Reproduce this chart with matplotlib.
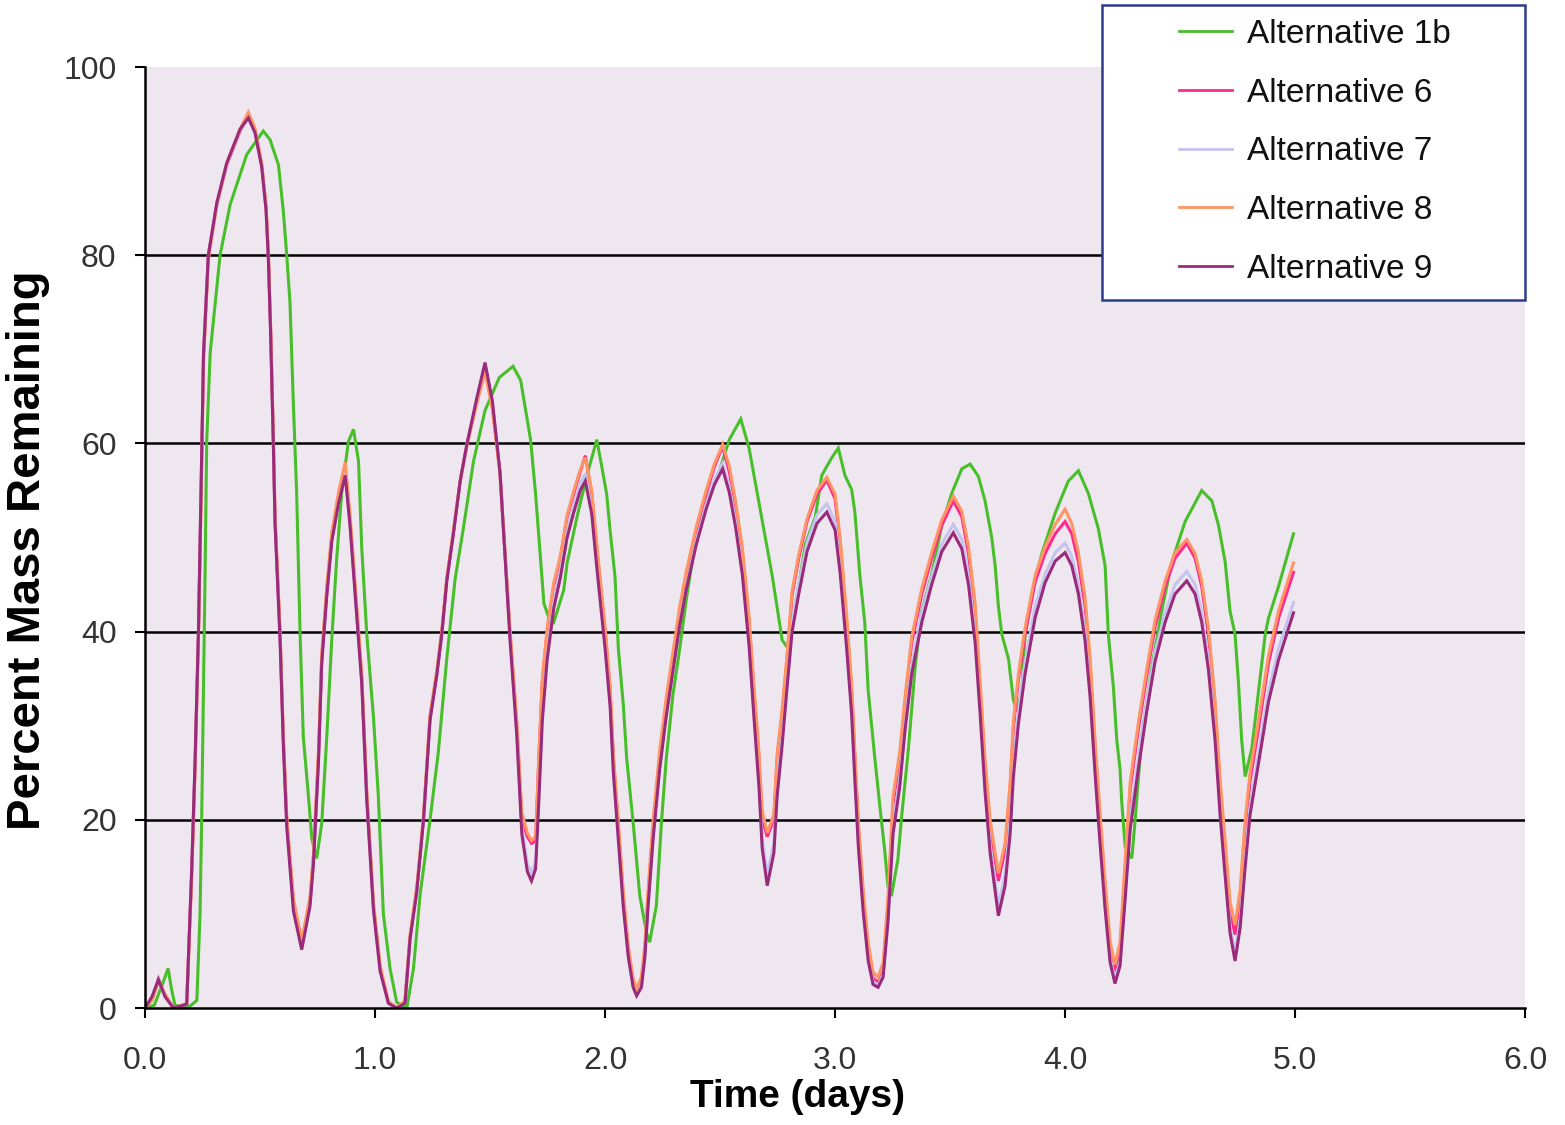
import matplotlib
matplotlib.use("Agg")
import matplotlib.pyplot as plt
from matplotlib.patches import Rectangle
from matplotlib.ticker import FixedLocator, FormatStrFormatter

# ---------------------------------------------------------------------------
# Percent mass remaining versus time (days) for five alternatives
# ---------------------------------------------------------------------------

# Alternative 1b has its own sampling times
t_1b = [0.000, 0.040, 0.075, 0.100, 0.115, 0.130, 0.185, 0.225, 0.239, 0.246,
        0.261, 0.268, 0.283, 0.326, 0.370, 0.442, 0.514, 0.543, 0.580, 0.601,
        0.616, 0.630, 0.645, 0.659, 0.674, 0.688, 0.710, 0.725, 0.746, 0.768,
        0.790, 0.812, 0.833, 0.855, 0.884, 0.906, 0.928, 0.942, 0.964, 0.993,
        1.014, 1.036, 1.065, 1.094, 1.138, 1.167, 1.196, 1.239, 1.275, 1.312,
        1.348, 1.384, 1.428, 1.478, 1.540, 1.600, 1.633, 1.676, 1.698, 1.719,
        1.734, 1.755, 1.777, 1.820, 1.835, 1.878, 1.921, 1.964, 1.986, 2.007,
        2.022, 2.043, 2.058, 2.079, 2.094, 2.122, 2.151, 2.180, 2.194, 2.223,
        2.245, 2.266, 2.295, 2.324, 2.353, 2.381, 2.417, 2.453, 2.496, 2.540,
        2.590, 2.626, 2.655, 2.691, 2.727, 2.755, 2.770, 2.799, 2.813, 2.842,
        2.871, 2.914, 2.942, 2.986, 3.014, 3.043, 3.072, 3.086, 3.108, 3.129,
        3.144, 3.173, 3.194, 3.216, 3.230, 3.245, 3.273, 3.290, 3.319, 3.348,
        3.377, 3.420, 3.464, 3.507, 3.551, 3.587, 3.623, 3.652, 3.681, 3.696,
        3.710, 3.725, 3.754, 3.775, 3.790, 3.812, 3.826, 3.855, 3.899, 3.957,
        4.014, 4.058, 4.101, 4.145, 4.174, 4.188, 4.210, 4.225, 4.239, 4.246,
        4.261, 4.290, 4.304, 4.333, 4.377, 4.420, 4.464, 4.522, 4.594, 4.638,
        4.667, 4.696, 4.717, 4.739, 4.754, 4.768, 4.783, 4.812, 4.841, 4.870,
        4.884, 4.928, 4.993]
alt_1b = [0.0, 0.3, 2.5, 4.2, 2.0, 0.3, 0.0, 0.8, 10.0, 20.0,
          46.4, 60.2, 69.6, 80.0, 85.4, 90.7, 93.2, 92.3, 89.6, 84.7,
          80.0, 75.0, 64.0, 54.8, 39.7, 28.8, 22.6, 18.0, 15.9, 19.6,
          28.8, 39.3, 47.7, 54.8, 60.2, 61.5, 58.1, 48.9, 39.7, 30.9,
          22.6, 10.0, 4.2, 0.6, 0.0, 4.2, 12.1, 20.0, 27.2, 37.2,
          45.6, 51.0, 58.1, 63.5, 67.0, 68.2, 66.7, 60.4, 54.6, 47.8,
          43.0, 41.5, 41.0, 44.4, 47.3, 52.2, 56.6, 60.4, 57.5, 54.6,
          50.7, 45.9, 38.1, 32.3, 26.5, 19.7, 11.9, 8.0, 7.0, 10.9,
          19.7, 26.5, 33.3, 38.1, 43.4, 47.8, 51.7, 54.6, 57.0, 60.4,
          62.6, 59.5, 55.6, 50.7, 45.9, 41.5, 39.1, 38.1, 41.0, 44.9,
          49.3, 52.2, 56.6, 58.5, 59.5, 56.6, 55.1, 52.7, 45.9, 41.0,
          33.7, 26.5, 21.6, 16.7, 12.9, 11.9, 15.8, 20.5, 27.6, 36.2,
          42.2, 46.1, 51.3, 54.7, 57.3, 57.8, 56.5, 53.9, 50.0, 47.0,
          42.7, 39.7, 37.1, 32.8, 31.5, 33.6, 39.7, 44.0, 48.3, 52.6,
          56.0, 57.1, 54.7, 50.9, 47.0, 39.7, 34.1, 28.4, 25.4, 22.0,
          17.2, 15.9, 19.8, 28.9, 36.2, 42.2, 47.4, 51.7, 55.0, 53.9,
          51.3, 47.4, 42.2, 39.7, 34.5, 28.4, 24.6, 27.6, 33.6, 39.7,
          41.4, 44.8, 50.4]

# Alternatives 6 to 9 share one set of sampling times
t_alt = [0.000, 0.030, 0.058, 0.087, 0.123, 0.181, 0.203, 0.217, 0.232, 0.246,
         0.254, 0.275, 0.312, 0.355, 0.413, 0.449, 0.478, 0.507, 0.526, 0.536,
         0.546, 0.558, 0.565, 0.587, 0.601, 0.616, 0.645, 0.681, 0.717, 0.732,
         0.754, 0.768, 0.790, 0.812, 0.841, 0.870, 0.891, 0.920, 0.942, 0.964,
         0.993, 1.022, 1.058, 1.094, 1.130, 1.152, 1.181, 1.210, 1.239, 1.268,
         1.290, 1.312, 1.341, 1.370, 1.399, 1.442, 1.478, 1.510, 1.543, 1.572,
         1.587, 1.616, 1.638, 1.662, 1.680, 1.698, 1.712, 1.727, 1.748, 1.777,
         1.806, 1.835, 1.863, 1.892, 1.914, 1.942, 1.964, 1.986, 2.000, 2.022,
         2.036, 2.058, 2.079, 2.101, 2.122, 2.137, 2.158, 2.173, 2.187, 2.209,
         2.237, 2.266, 2.295, 2.324, 2.353, 2.396, 2.439, 2.475, 2.511, 2.540,
         2.568, 2.597, 2.626, 2.647, 2.669, 2.683, 2.705, 2.734, 2.748, 2.770,
         2.791, 2.813, 2.842, 2.878, 2.921, 2.964, 3.000, 3.022, 3.050, 3.072,
         3.086, 3.101, 3.122, 3.144, 3.165, 3.187, 3.209, 3.230, 3.252, 3.281,
         3.304, 3.333, 3.377, 3.420, 3.464, 3.514, 3.551, 3.580, 3.609, 3.630,
         3.652, 3.674, 3.710, 3.739, 3.761, 3.775, 3.797, 3.826, 3.870, 3.913,
         3.957, 4.000, 4.029, 4.058, 4.087, 4.109, 4.130, 4.152, 4.174, 4.196,
         4.217, 4.239, 4.261, 4.283, 4.319, 4.355, 4.391, 4.435, 4.478, 4.529,
         4.565, 4.594, 4.623, 4.652, 4.674, 4.696, 4.717, 4.739, 4.761, 4.783,
         4.804, 4.841, 4.884, 4.928, 4.993]

alt_6 = [0.0, 1.0, 3.1, 1.3, 0.0, 0.4, 14.6, 25.5, 39.7, 58.0,
         69.3, 80.0, 85.4, 89.6, 93.2, 94.8, 93.2, 89.6, 85.0, 80.0,
         72.0, 60.0, 52.0, 39.7, 28.8, 20.0, 11.3, 6.7, 11.3, 15.9,
         26.8, 37.2, 44.3, 50.2, 54.3, 57.3, 51.8, 42.2, 35.1, 22.6,
         10.9, 4.2, 0.6, 0.0, 0.6, 7.5, 12.5, 20.0, 30.9, 35.5,
         39.9, 45.6, 50.6, 56.0, 59.8, 64.4, 68.0, 64.0, 56.9, 45.6,
         39.7, 30.1, 20.0, 18.2, 17.5, 17.7, 26.5, 34.7, 40.0, 44.9,
         47.8, 52.2, 54.6, 57.0, 58.7, 54.6, 48.8, 43.4, 40.0, 33.7,
         26.5, 19.2, 11.9, 6.1, 2.7, 1.7, 2.7, 6.1, 11.9, 19.2,
         26.5, 32.3, 37.1, 42.0, 45.9, 50.7, 54.6, 57.5, 59.7, 57.0,
         53.2, 48.3, 41.0, 33.7, 26.5, 20.1, 18.2, 20.1, 26.5, 31.3,
         37.1, 43.9, 47.8, 51.7, 54.6, 56.1, 54.1, 49.3, 41.0, 33.7,
         26.5, 19.2, 11.9, 6.1, 3.2, 2.7, 4.1, 10.9, 21.6, 26.5,
         32.3, 38.8, 44.0, 47.8, 51.3, 53.9, 52.2, 48.3, 42.2, 34.1,
         25.4, 19.0, 13.5, 16.8, 23.3, 29.7, 34.9, 39.7, 45.3, 48.3,
         50.4, 51.7, 50.4, 47.4, 42.7, 36.2, 27.6, 19.8, 12.5, 6.0,
         3.9, 6.0, 14.7, 23.3, 29.7, 35.3, 40.5, 44.8, 47.8, 49.4,
         47.8, 44.8, 39.7, 31.9, 23.3, 16.8, 10.3, 7.8, 11.6, 19.0,
         24.1, 29.7, 36.6, 41.4, 46.3]

alt_7 = [0.0, 1.1, 3.0, 1.2, 0.0, 0.4, 14.9, 25.8, 39.9, 58.3,
         69.4, 80.0, 85.5, 89.7, 93.3, 94.6, 93.1, 89.5, 84.9, 79.8,
         71.8, 59.8, 51.8, 39.3, 28.4, 19.6, 10.8, 6.5, 11.0, 15.6,
         26.5, 36.9, 44.0, 49.9, 53.9, 56.9, 51.5, 42.0, 34.8, 22.3,
         10.6, 4.0, 0.5, 0.0, 0.6, 7.4, 12.4, 19.9, 30.8, 35.4,
         39.8, 45.5, 50.6, 56.0, 59.9, 64.6, 68.3, 64.2, 57.0, 45.4,
         39.4, 29.6, 19.3, 15.3, 14.4, 15.6, 23.0, 31.5, 37.8, 43.3,
         46.5, 50.7, 53.3, 55.7, 56.8, 53.2, 47.5, 42.2, 38.9, 32.6,
         25.5, 18.3, 11.2, 5.7, 2.4, 1.4, 2.4, 5.7, 11.2, 18.4,
         25.7, 31.4, 36.2, 41.0, 44.9, 49.6, 53.5, 56.1, 57.9, 55.4,
         51.6, 46.7, 39.3, 31.9, 24.4, 18.0, 14.2, 17.5, 23.6, 29.0,
         34.9, 41.0, 45.0, 49.4, 52.4, 53.6, 51.7, 47.0, 39.1, 32.0,
         25.0, 18.0, 11.0, 5.5, 2.8, 2.4, 3.6, 9.8, 19.4, 24.4,
         30.4, 36.5, 42.0, 45.9, 49.3, 51.4, 49.8, 46.0, 39.8, 32.4,
         23.8, 17.4, 10.9, 14.1, 19.8, 25.8, 31.4, 36.7, 42.7, 46.1,
         48.4, 49.4, 48.0, 45.0, 40.0, 34.0, 25.8, 18.2, 11.2, 5.3,
         3.0, 5.0, 12.4, 20.2, 26.6, 32.6, 37.8, 42.0, 45.0, 46.4,
         45.0, 42.0, 37.0, 29.5, 21.4, 14.9, 8.7, 5.8, 9.3, 16.0,
         21.4, 27.0, 33.6, 38.2, 43.1]

alt_8 = [0.0, 0.8, 2.8, 1.5, 0.0, 0.5, 14.0, 25.0, 39.0, 57.0,
         68.5, 79.5, 85.4, 89.8, 93.4, 95.2, 93.5, 89.8, 85.3, 80.3,
         72.5, 60.5, 52.5, 40.0, 29.0, 20.3, 11.6, 7.2, 11.8, 16.4,
         27.3, 37.6, 44.8, 50.6, 54.8, 58.0, 52.5, 42.8, 35.6, 23.0,
         11.2, 4.5, 0.7, 0.0, 0.8, 7.8, 12.8, 20.3, 31.2, 35.8,
         40.1, 45.8, 50.8, 56.1, 59.8, 64.2, 67.6, 63.6, 56.8, 45.9,
         40.1, 30.6, 20.8, 18.6, 17.8, 18.2, 26.8, 35.0, 40.3, 45.2,
         48.1, 52.4, 54.9, 57.2, 58.5, 55.0, 49.3, 43.9, 40.5, 34.2,
         27.0, 19.7, 12.4, 6.6, 3.1, 2.1, 3.3, 6.8, 12.6, 20.0,
         27.3, 33.0, 37.8, 42.6, 46.4, 51.1, 55.0, 57.8, 59.9, 57.6,
         53.8, 48.9, 41.6, 34.3, 27.2, 21.0, 18.6, 20.6, 27.0, 31.8,
         37.5, 44.3, 48.2, 52.0, 55.0, 56.4, 54.6, 50.0, 41.8, 34.5,
         27.3, 20.0, 12.7, 6.9, 3.8, 3.3, 4.8, 11.8, 22.5, 27.2,
         33.0, 39.4, 44.6, 48.4, 51.9, 54.4, 52.8, 49.0, 43.0, 35.0,
         26.5, 20.0, 14.3, 17.5, 24.0, 30.3, 35.5, 40.4, 46.0, 49.0,
         51.4, 53.0, 51.5, 48.4, 43.6, 37.2, 28.6, 20.8, 13.5, 7.0,
         4.6, 7.0, 15.6, 24.0, 30.4, 36.0, 41.2, 45.4, 48.4, 49.8,
         48.3, 45.4, 40.4, 32.8, 24.3, 17.8, 11.3, 8.8, 12.6, 20.0,
         25.0, 30.6, 37.4, 42.2, 47.3]

alt_9 = [0.0, 1.2, 3.0, 1.2, 0.0, 0.4, 15.0, 26.0, 40.0, 58.5,
         69.5, 80.0, 85.6, 89.8, 93.4, 94.6, 93.0, 89.4, 84.8, 79.6,
         71.5, 59.5, 51.5, 39.0, 28.0, 19.2, 10.3, 6.2, 10.8, 15.3,
         26.2, 36.6, 43.8, 49.6, 53.6, 56.6, 51.3, 41.8, 34.5, 22.0,
         10.4, 3.9, 0.5, 0.0, 0.5, 7.3, 12.3, 19.8, 30.6, 35.3,
         39.7, 45.4, 50.5, 56.0, 59.9, 64.8, 68.6, 64.5, 57.0, 45.2,
         39.0, 29.0, 18.5, 14.5, 13.5, 14.8, 22.0, 30.5, 37.0, 42.5,
         45.8, 50.0, 52.6, 55.0, 56.0, 52.5, 46.8, 41.5, 38.2, 32.0,
         25.0, 17.8, 10.8, 5.4, 2.2, 1.3, 2.2, 5.4, 10.8, 18.0,
         25.3, 31.0, 35.8, 40.6, 44.5, 49.2, 53.0, 55.6, 57.3, 54.8,
         51.0, 46.0, 38.5, 31.0, 23.5, 17.0, 13.0, 16.5, 22.5, 28.0,
         34.0, 40.0, 44.0, 48.5, 51.5, 52.7, 50.8, 46.2, 38.3, 31.2,
         24.2, 17.2, 10.3, 5.0, 2.5, 2.2, 3.3, 9.2, 18.5, 23.5,
         29.5, 35.5, 41.0, 45.0, 48.5, 50.5, 48.8, 45.0, 38.8, 31.5,
         23.0, 16.5, 9.8, 13.0, 18.5, 24.5, 30.2, 35.5, 41.5, 45.2,
         47.5, 48.4, 47.0, 44.0, 39.0, 33.0, 25.0, 17.5, 10.5, 4.8,
         2.6, 4.5, 11.5, 19.0, 25.5, 31.5, 36.8, 41.0, 44.0, 45.4,
         44.0, 41.0, 36.0, 28.5, 20.5, 14.0, 8.0, 5.0, 8.5, 15.0,
         20.5, 26.0, 32.5, 37.0, 42.0]

series_names = ["Alternative 1b", "Alternative 6", "Alternative 7",
                "Alternative 8", "Alternative 9"]
x_ticks = [0.0, 1.0, 2.0, 3.0, 4.0, 5.0, 6.0]
y_ticks = [0, 20, 40, 60, 80, 100]

# ---------------------------------------------------------------------------
colors = ["#48bf2a", "#ff2a8c", "#c4c4ee", "#ff9464", "#9a2a7a"]
plt.rcParams["font.family"] = ["Liberation Sans", "DejaVu Sans"]

fig = plt.figure(figsize=(15.65, 11.25), dpi=100)
fig.patch.set_facecolor("white")
ax = fig.add_axes([0.0927, 0.1040, 0.8818, 0.8364])
ax.set_facecolor("#efe7ef")

ax.set_xlim(0, 6)
ax.set_ylim(0, 100)

# horizontal gridlines
for yv in y_ticks[1:-1]:
    ax.axhline(yv, color="black", lw=1.8, zorder=1)

lines = []
data = [(t_1b, alt_1b), (t_alt, alt_6), (t_alt, alt_7), (t_alt, alt_8), (t_alt, alt_9)]
for (tt, vv), c, name in zip(data, colors, series_names):
    ln, = ax.plot(tt, vv, color=c, lw=2.2, label=name, zorder=2,
                  solid_joinstyle="miter")
    lines.append(ln)

for side in ("top", "right"):
    ax.spines[side].set_visible(False)
for side in ("left", "bottom"):
    ax.spines[side].set_color("black")
    ax.spines[side].set_linewidth(1.8)

ax.xaxis.set_major_locator(FixedLocator(x_ticks))
ax.yaxis.set_major_locator(FixedLocator(y_ticks))
ax.xaxis.set_major_formatter(FormatStrFormatter("%.1f"))
ax.tick_params(axis="both", direction="out", length=7.5, width=1.5, color="black",
               labelsize=23, labelcolor="#333333")
ax.tick_params(axis="x", pad=20)
ax.tick_params(axis="y", pad=13)

ax.set_xlabel("Time (days)", fontsize=28, fontweight="bold")
ax.xaxis.set_label_coords(0.473, -0.095)
ax.xaxis.label.set_verticalalignment("center")
ax.set_ylabel("Percent Mass Remaining", fontsize=34, fontweight="bold")
ax.yaxis.set_label_coords(-0.085, 0.487)
ax.yaxis.label.set_verticalalignment("center")

# legend box drawn over the plot area
box = Rectangle((1102 / 1565, 1 - 300 / 1125), 423 / 1565, 295 / 1125,
                transform=fig.transFigure, facecolor="white", edgecolor="#2c3c8c",
                lw=1.8, zorder=4, clip_on=False)
ax.add_patch(box)
leg = ax.legend(handles=lines, loc="center", bbox_to_anchor=(0.840, 0.865),
                bbox_transform=fig.transFigure, frameon=False, fontsize=24,
                handlelength=1.6, handletextpad=0.45, labelspacing=0.83,
                borderpad=0.0)
leg.set_zorder(5)
for h in leg.get_lines():
    h.set_linewidth(2.0)
for txt in leg.get_texts():
    txt.set_color("#111111")

fig.savefig("out.png", dpi=100, facecolor="white")
